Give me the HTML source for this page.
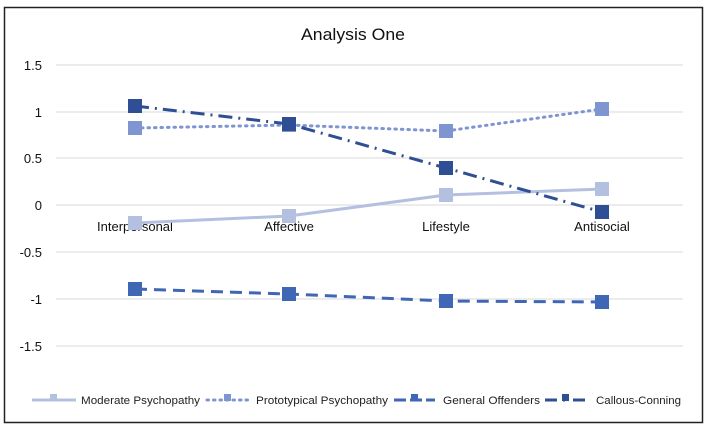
<!DOCTYPE html>
<html><head><style>
body{margin:0;background:#fff;}
svg{display:block;font-family:"Liberation Sans",sans-serif;}
</style></head><body>
<svg width="706" height="430" viewBox="0 0 706 430">
<rect x="0" y="0" width="706" height="430" fill="#fff"/>
<rect x="4.5" y="7.5" width="698" height="415" fill="#fff" stroke="#222" stroke-width="1.5"/>
<text x="353" y="40" font-size="17" text-anchor="middle" fill="#111" textLength="104" lengthAdjust="spacingAndGlyphs">Analysis One</text>
<g stroke="#d9d9d9" stroke-width="1">
<line x1="56" x2="683" y1="65" y2="65"/><line x1="56" x2="683" y1="112" y2="112"/>
<line x1="56" x2="683" y1="158" y2="158"/><line x1="56" x2="683" y1="205" y2="205"/>
<line x1="56" x2="683" y1="252" y2="252"/><line x1="56" x2="683" y1="299" y2="299"/>
<line x1="56" x2="683" y1="346" y2="346"/>
</g>
<g font-size="13" fill="#111" text-anchor="end">
<text x="42" y="70">1.5</text><text x="42" y="117">1</text><text x="42" y="163">0.5</text>
<text x="42" y="210">0</text><text x="42" y="257">-0.5</text><text x="42" y="304">-1</text><text x="42" y="351">-1.5</text>
</g>
<g font-size="13" fill="#111" text-anchor="middle">
<text x="135" y="231">Interpersonal</text><text x="289" y="231">Affective</text>
<text x="446" y="231">Lifestyle</text><text x="602" y="231">Antisocial</text>
</g>
<polyline points="135,223 289,216 446,195 602,189" fill="none" stroke="#b4c0e0" stroke-width="3"/>
<g fill="#b4c0e0"><rect x="128" y="216" width="14" height="14"/><rect x="282" y="209" width="14" height="14"/><rect x="439" y="188" width="14" height="14"/><rect x="595" y="182" width="14" height="14"/></g>
<polyline points="135,128 289,125 446,131 602,109" fill="none" stroke="#7f95d2" stroke-width="3" stroke-dasharray="1.5 5" stroke-linecap="round"/>
<g fill="#7f95d2"><rect x="128" y="121" width="14" height="14"/><rect x="282" y="118" width="14" height="14"/><rect x="439" y="124" width="14" height="14"/><rect x="595" y="102" width="14" height="14"/></g>
<polyline points="135,289 289,294 446,301 602,302" fill="none" stroke="#3f67b5" stroke-width="3" stroke-dasharray="12 7"/>
<g fill="#3f67b5"><rect x="128" y="282" width="14" height="14"/><rect x="282" y="287" width="14" height="14"/><rect x="439" y="294" width="14" height="14"/><rect x="595" y="295" width="14" height="14"/></g>
<polyline points="135,106 289,124 446,168 602,212" fill="none" stroke="#2f4f94" stroke-width="3" stroke-dasharray="14 6 2 6"/>
<g fill="#2f4f94"><rect x="128" y="99" width="14" height="14"/><rect x="282" y="117" width="14" height="14"/><rect x="439" y="161" width="14" height="14"/><rect x="595" y="205" width="14" height="14"/></g>
<g font-size="11" fill="#222">
<line x1="32" x2="76" y1="400" y2="400" stroke="#b4c0e0" stroke-width="3"/><rect x="50" y="394" width="7" height="7" fill="#b4c0e0"/>
<text x="81" y="404" textLength="119" lengthAdjust="spacingAndGlyphs">Moderate Psychopathy</text>
<line x1="207" x2="249" y1="400" y2="400" stroke="#7f95d2" stroke-width="3" stroke-dasharray="1.5 5" stroke-linecap="round"/><rect x="224" y="394" width="7" height="7" fill="#7f95d2"/>
<text x="256" y="404" textLength="132" lengthAdjust="spacingAndGlyphs">Prototypical Psychopathy</text>
<line x1="394" x2="435" y1="400" y2="400" stroke="#3f67b5" stroke-width="3" stroke-dasharray="12 4"/><rect x="411" y="394" width="7" height="7" fill="#3f67b5"/>
<text x="443" y="404" textLength="97" lengthAdjust="spacingAndGlyphs">General Offenders</text>
<line x1="545" x2="590" y1="400" y2="400" stroke="#2f4f94" stroke-width="3" stroke-dasharray="12 6 2 8"/><rect x="562" y="394" width="7" height="7" fill="#2f4f94"/>
<text x="596" y="404" textLength="85" lengthAdjust="spacingAndGlyphs">Callous-Conning</text>
</g>
</svg>
</body></html>
